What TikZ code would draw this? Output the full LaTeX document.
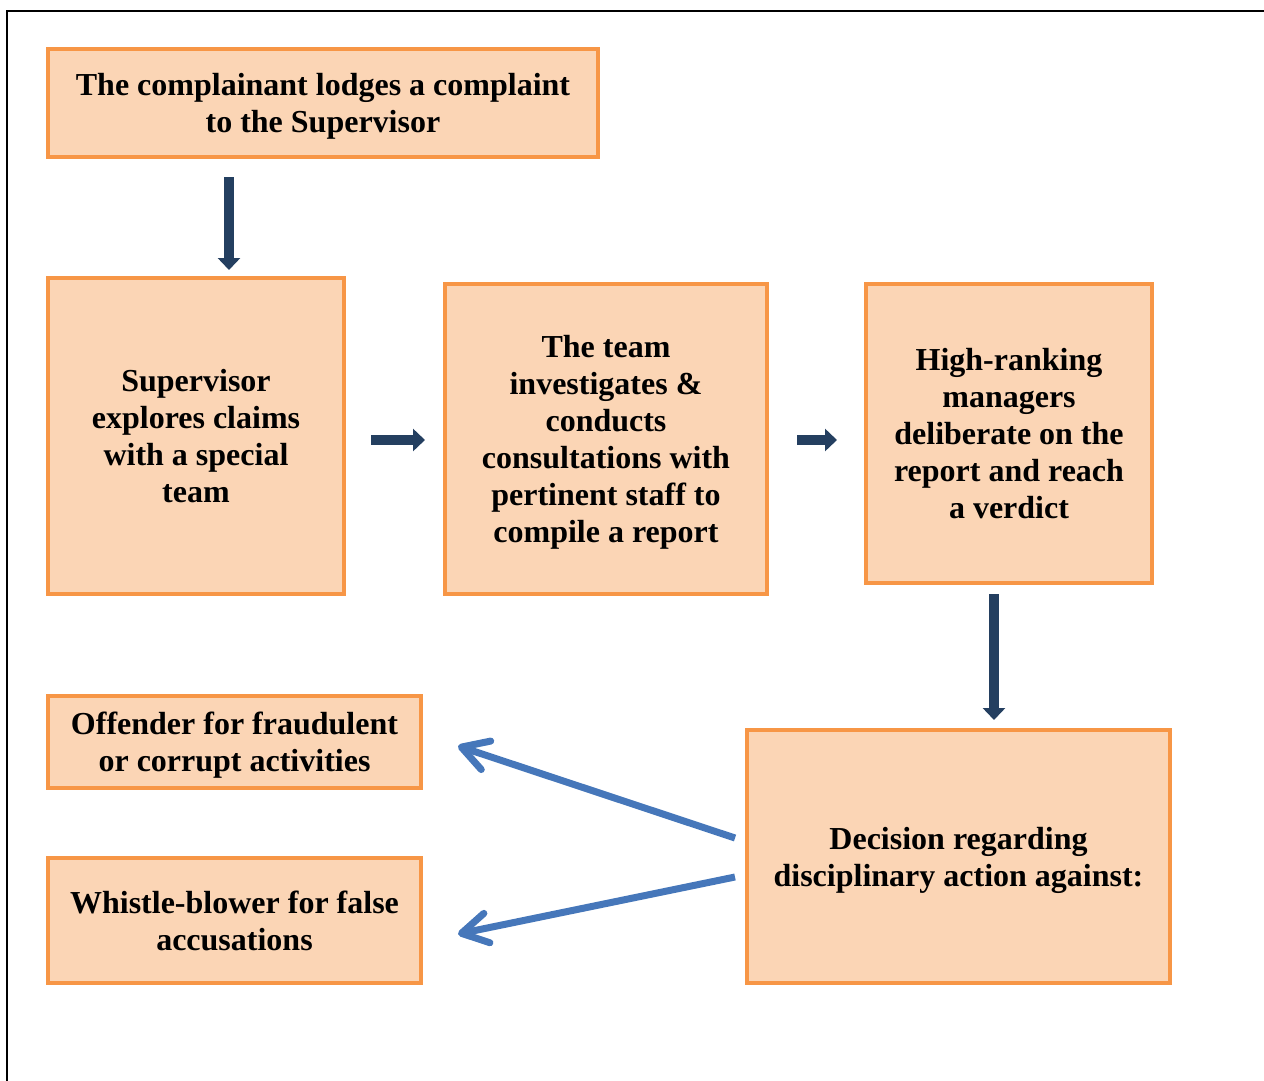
\documentclass[tikz,border=0pt]{standalone}
\usepackage{fontspec}
\setmainfont{Liberation Serif}
\usetikzlibrary{arrows.meta, positioning}
\definecolor{stepborder}{HTML}{F79646}
\definecolor{stepfill}{HTML}{FBD5B5}
\definecolor{darknavy}{HTML}{243F60}
\definecolor{softblue}{HTML}{4677BA}
\tikzset{
	stepbox/.style={draw=stepborder, fill=stepfill, line width=4pt,
		align=center, font=\fontsize{32}{37}\selectfont\bfseries, inner sep=0pt,
		text depth=0pt},
	navyarrow/.style={draw=darknavy, line width=10pt,
		-{Triangle[length=12pt, width=22pt]}},
	bluearrow/.style={draw=softblue, line width=7pt,
		-{Straight Barb[length=26pt, width=30pt, round]}}
}

\begin{document}
\begin{tikzpicture}[x=1pt, y=-1pt]
				\useasboundingbox (0,0) rectangle (1264,1081);
				\draw[line width=2pt] (7,1081) -- (7,11) -- (1264,11);

				\node[stepbox, minimum width=550pt, minimum height=108pt] (lodge) at (323,103)
					{The complainant lodges a complaint\\to the Supervisor};
				\node[stepbox, minimum width=296pt, minimum height=316pt] (explore) at (196,436)
					{Supervisor\\explores claims\\with a special\\team};
				\node[stepbox, minimum width=322pt, minimum height=310pt] (investigate) at (606,439)
					{The team\\investigates \&\\conducts\\consultations with\\pertinent staff to\\compile a report};
				\node[stepbox, minimum width=286pt, minimum height=299pt] (deliberate) at (1009,433.5)
					{High-ranking\\managers\\deliberate on the\\report and reach\\a verdict};
				\node[stepbox, minimum width=423pt, minimum height=253pt] (decision) at (958.5,856.5)
					{Decision regarding\\disciplinary action against:};
				\node[stepbox, minimum width=373pt, minimum height=92pt] (offender) at (234.5,742)
					{Offender for fraudulent\\or corrupt activities};
				\node[stepbox, minimum width=373pt, minimum height=125pt] (whistle) at (234.5,920.5)
					{Whistle-blower for false\\accusations};

				% main flow
				\draw[navyarrow] ([shift={(-94,18)}]lodge.south) -- ([shift={(33,-6)}]explore.north);
				\draw[navyarrow] ([shift={(25,4)}]explore.east) -- ([shift={(-18,1)}]investigate.west);
				\draw[navyarrow] ([shift={(28,1)}]investigate.east) -- ([shift={(-27,6.5)}]deliberate.west);
				\draw[navyarrow] ([shift={(-15,9)}]deliberate.south) -- ([shift={(35.5,-8)}]decision.north);

				% outcomes
				\draw[bluearrow] ([shift={(-10,-18.5)}]decision.west) -- ([shift={(35,4)}]offender.east);
				\draw[bluearrow] ([shift={(-10,20.5)}]decision.west) -- ([shift={(35,13.5)}]whistle.east);
			\end{tikzpicture}
\end{document}
